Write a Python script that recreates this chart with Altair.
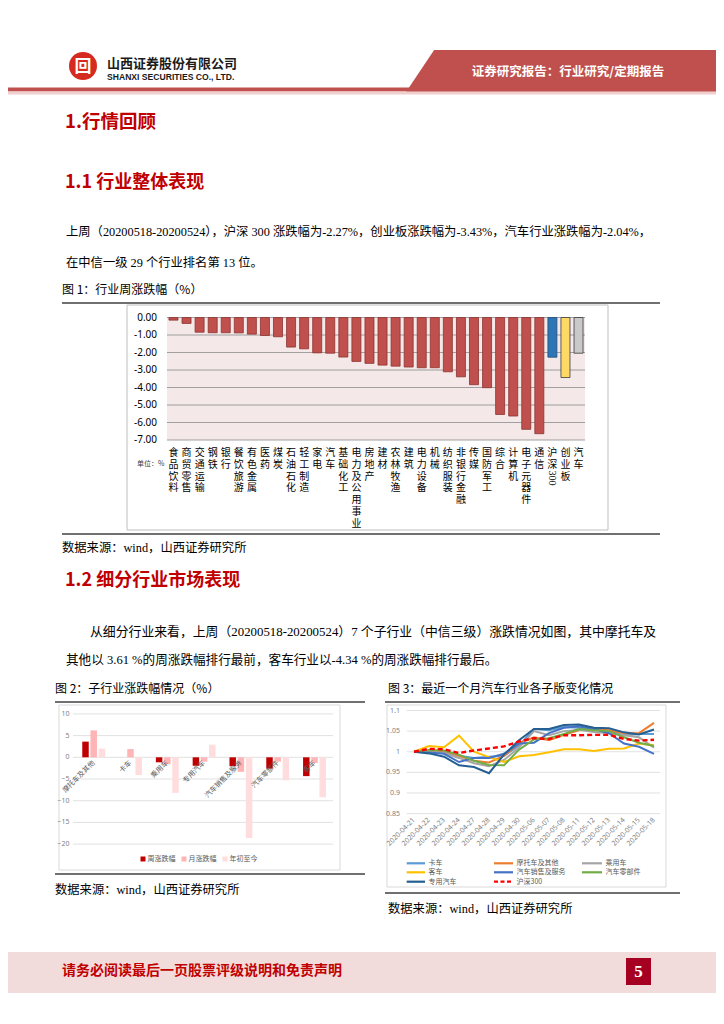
import altair as alt
import pandas as pd

# ---------------- data ----------------
ind_names = ["食品饮料", "商贸零售", "交通运输", "钢铁", "银行", "餐饮旅游", "有色金属", "医药", "煤炭",
             "石油石化", "轻工制造", "家电", "汽车", "基础化工", "电力及公用事业", "房地产", "建材",
             "农林牧渔", "建筑", "电力设备", "机械", "纺织服装", "非银行金融", "传媒", "国防军工",
             "综合", "计算机", "电子元器件", "通信"]
ind_values = [-0.15, -0.34, -0.84, -0.87, -0.87, -0.88, -0.95, -1.03, -1.10, -1.69, -1.79, -2.02, -2.04,
              -2.26, -2.51, -2.62, -2.72, -2.78, -2.83, -2.87, -2.87, -3.10, -3.39, -3.84, -4.01,
              -5.54, -5.63, -6.39, -6.64]
bench_names = ["沪深300", "创业板", "汽车"]
bench_values = [-2.27, -3.43, -2.04]
c1_ticks = [0, -1, -2, -3, -4, -5, -6, -7]
c1_tick_labels = ["0.00", "-1.00", "-2.00", "-3.00", "-4.00", "-5.00", "-6.00", "-7.00"]

sub_names = ["摩托车及其他", "卡车", "乘用车", "专用汽车", "汽车销售及服务", "汽车零部件", "客车"]
c2_series = ["周涨跌幅", "月涨跌幅", "年初至今"]
c2_week = [3.61, 0.0, -1.15, -1.95, -2.05, -2.60, -4.34]
c2_month = [6.2, 1.9, -1.6, -1.0, -3.35, -1.0, -1.3]
c2_ytd = [2.0, -4.05, -8.2, 2.9, -18.6, -5.3, -9.2]
c2_ticks = [10, 5, 0, -5, -10, -15, -20]

dates = ["2020-04-21", "2020-04-22", "2020-04-23", "2020-04-24", "2020-04-27", "2020-04-28",
         "2020-04-29", "2020-04-30", "2020-05-06", "2020-05-07", "2020-05-08", "2020-05-11",
         "2020-05-12", "2020-05-13", "2020-05-14", "2020-05-15", "2020-05-18"]
c3_series = ["卡车", "摩托车及其他", "乘用车", "客车", "汽车销售及服务", "汽车零部件", "专用汽车", "沪深300"]
s_truck = [1.0, 1.002, 1.0, 0.99, 0.985, 0.988, 0.99, 1.015, 1.055, 1.052, 1.06, 1.058, 1.055, 1.05, 1.04, 1.043, 1.043]
s_moto = [1.0, 1.003, 1.002, 0.99, 0.978, 0.974, 0.99, 1.02, 1.035, 1.028, 1.041, 1.052, 1.055, 1.052, 1.045, 1.045, 1.07]
s_car = [1.0, 1.0, 0.997, 0.985, 0.972, 0.965, 0.98, 1.01, 1.05, 1.04, 1.05, 1.053, 1.048, 1.045, 1.04, 1.035, 1.01]
s_bus = [1.0, 1.014, 1.011, 1.039, 1.0, 0.987, 0.975, 0.989, 0.992, 0.999, 1.006, 1.006, 1.002, 1.007, 1.008, 1.02, 1.016]
s_sales = [1.0, 0.998, 0.995, 0.975, 0.985, 0.985, 0.995, 1.02, 1.022, 1.045, 1.058, 1.062, 1.055, 1.045, 1.02, 1.012, 0.995]
s_parts = [1.0, 1.004, 1.003, 0.993, 0.978, 0.968, 0.967, 1.005, 1.03, 1.033, 1.043, 1.055, 1.052, 1.05, 1.035, 1.022, 1.014]
s_special = [1.0, 0.996, 0.988, 0.967, 0.963, 0.948, 0.993, 1.028, 1.055, 1.055, 1.065, 1.066, 1.058, 1.057, 1.047, 1.042, 1.054]
s_hs300 = [1.0, 1.007, 1.006, 0.997, 1.003, 1.008, 1.013, 1.025, 1.033, 1.031, 1.040, 1.040, 1.041, 1.041, 1.031, 1.027, 1.029]
c3_ticks = [1.1, 1.05, 1.0, 0.95, 0.9, 0.85]
c3_tick_labels = ["1.1", "1.05", "1", "0.95", "0.9", "0.85"]

# ---------------- helpers ----------------
CJK = "Noto Sans CJK SC"
SERIF = "Liberation Serif, Noto Sans CJK SC"
HRED = "#C00000"
OFF = 8


def P(v):
    return v - OFF


one = pd.DataFrame({"k": [0]})
layers = []


def text(s, x, y, size, color="#000000", weight="normal", font=CJK, align="left", baseline="middle", angle=None):
    kw = dict(text=s, fontSize=size, color=color, fontWeight=weight, font=font, align=align, baseline=baseline)
    if angle is not None:
        kw["angle"] = angle
    layers.append(alt.Chart(one).mark_text(**kw).encode(x=alt.value(P(x)), y=alt.value(P(y))))


def rect(x1, y1, x2, y2, fill, stroke=None, sw=1.0):
    kw = dict(fill=fill)
    if stroke is not None:
        kw["stroke"] = stroke
        kw["strokeWidth"] = sw
    layers.append(alt.Chart(one).mark_rect(**kw).encode(
        x=alt.value(P(x1)), x2=alt.value(P(x2)), y=alt.value(P(y1)), y2=alt.value(P(y2))))


def hline(x1, x2, y, color, sw=1.0):
    layers.append(alt.Chart(one).mark_rule(color=color, strokeWidth=sw).encode(
        x=alt.value(P(x1)), x2=alt.value(P(x2)), y=alt.value(P(y))))


# ---------------- header ----------------
rect(434, 50, 730, 92, "#C0504D")
layers.append(alt.Chart(one).mark_point(shape="M -1 1 L 0.34 1 L 0.34 -1 Z", size=42 * 42, filled=True,
                                        opacity=1, color="#C0504D", strokeWidth=0).encode(
    x=alt.value(P(427)), y=alt.value(P(71))))
rect(0, 87.5, 730, 91.5, "#C0504D")
rect(0, 91.5, 730, 94.5, "#EFCFCE")
text("证券研究报告：行业研究/定期报告", 568, 72, 12.5, color="#FFFFFF", weight="bold", align="center")
layers.append(alt.Chart(one).mark_point(shape="circle", size=28 * 28, filled=True, opacity=1,
                                        color="#D42A20").encode(x=alt.value(P(83)), y=alt.value(P(66))))
text("回", 83, 66.5, 17, color="#FFFFFF", weight="bold", align="center")
text("山西证券股份有限公司", 107, 63.5, 13, color="#1A1A1A", weight="bold")
text("SHANXI SECURITIES CO., LTD.", 107, 77, 8.6, color="#1A1A1A", weight="bold", font="Liberation Sans")

# ---------------- section 1 text ----------------
text("1.行情回顾", 65, 122, 18.5, color=HRED, weight="bold")
text("1.1 行业整体表现", 65, 183, 18, color=HRED, weight="bold")
text("上周（20200518-20200524），沪深 300 涨跌幅为-2.27%，创业板涨跌幅为-3.43%，汽车行业涨跌幅为-2.04%，",
     66, 232, 12.3, font=SERIF)
text("在中信一级 29 个行业排名第 13 位。", 66, 263, 12.3, font=SERIF)
text("图 1：行业周涨跌幅（%）", 62, 290, 12)
hline(62, 660, 303, "#404040", 1.5)
hline(62, 660, 534, "#404040", 1.5)
text("数据来源：wind，山西证券研究所", 62, 548, 12.3, font=SERIF)

# ---------------- chart 1 ----------------
rect(127, 305, 608, 530, "#FFFFFF", "#BFBFBF", 1)
rect(167, 317.5, 585, 440, "#F4E8E8")

c1_labels = ind_names + bench_names
c1_vals = ind_values + bench_values
kinds = ["行业"] * len(ind_names) + ["沪深300", "创业板", "汽车板块"]
df1 = pd.DataFrame({"idx": list(range(len(c1_labels))), "name": c1_labels, "v": c1_vals, "kind": kinds})
x1 = alt.Scale(domain=list(range(len(c1_labels))), range=[P(167), P(585)], paddingInner=0.31, paddingOuter=0.15)
y1 = alt.Scale(domain=[-7, 0], range=[P(440), P(317.5)])
df1t = pd.DataFrame({"t": c1_ticks, "lbl": c1_tick_labels})

# one row per character of each vertical category label
char_rows = []
for i, n in enumerate(c1_labels):
    chars = ["沪", "深"] if n == "沪深300" else list(n)
    for j, ch in enumerate(chars):
        char_rows.append({"idx": i, "line": j, "ch": ch})
df1c = pd.DataFrame(char_rows)
LH = 11.8
yline = alt.Scale(type="point", domain=list(range(7)), range=[P(447 + LH / 2), P(447 + LH / 2 + 6 * LH)], padding=0)

layers.append(alt.Chart(df1t).mark_rule(color="#8C8C8C", strokeWidth=0.8).encode(
    y=alt.Y("t:Q", scale=y1, axis=None), x=alt.value(P(167)), x2=alt.value(P(585))))
layers.append(alt.Chart(df1t).mark_text(align="right", baseline="middle", fontSize=10, font="Noto Sans",
                                        color="#000000").encode(
    y=alt.Y("t:Q", scale=y1, axis=None), x=alt.value(P(157)), text="lbl:N"))
layers.append(alt.Chart(df1).mark_bar(strokeWidth=0.8).encode(
    x=alt.X("idx:O", scale=x1, axis=None),
    y=alt.Y("v:Q", scale=y1, axis=None),
    color=alt.Color("kind:N", scale=alt.Scale(domain=["行业", "沪深300", "创业板", "汽车板块"],
                                              range=["#C0504D", "#2E75B6", "#FFD966", "#C9C9C9"]), legend=None),
    stroke=alt.Stroke("kind:N", scale=alt.Scale(domain=["行业", "沪深300", "创业板", "汽车板块"],
                                                range=["#8B3330", "#1F4E79", "#3A3A3A", "#3A3A3A"]), legend=None)))
layers.append(alt.Chart(df1c).mark_text(align="center", baseline="middle", fontSize=10, font=CJK,
                                        color="#000000").encode(
    x=alt.X("idx:O", scale=x1, axis=None), y=alt.Y("line:O", scale=yline, axis=None), text="ch:N"))
layers.append(alt.Chart(df1).transform_filter(alt.datum.name == "沪深300").mark_text(
    text="300", angle=90, align="center", baseline="middle", fontSize=10, font=SERIF, color="#000000").encode(
    x=alt.X("idx:O", scale=x1, axis=None), y=alt.value(P(478))))
text("单位：%", 137, 464, 7, color="#404040")

# ---------------- section 1.2 text ----------------
text("1.2 细分行业市场表现", 65, 581, 18, color=HRED, weight="bold")
text("从细分行业来看，上周（20200518-20200524）7 个子行业（中信三级）涨跌情况如图，其中摩托车及",
     90, 632, 12.85, font=SERIF)
text("其他以 3.61 %的周涨跌幅排行最前，客车行业以-4.34 %的周涨跌幅排行最后。", 66, 660, 12.6, font=SERIF)

# ---------------- chart 2 ----------------
text("图 2：子行业涨跌幅情况（%）", 55, 689, 12)
hline(55, 365, 702, "#404040", 1.5)
hline(55, 365, 874, "#404040", 1.5)
text("数据来源：wind，山西证券研究所", 55, 890, 12.3, font=SERIF)
rect(59, 705, 340, 870, "#FFFFFF", "#D9D9D9", 1)

y2s = alt.Scale(domain=[-20, 10], range=[P(844.1), P(713.9)])
x2s = alt.Scale(domain=sub_names, range=[P(75.3), P(332.9)], paddingInner=0, paddingOuter=0)
df2t = pd.DataFrame({"t": c2_ticks})
layers.append(alt.Chart(df2t).mark_rule(color="#D9D9D9", strokeWidth=0.8).encode(
    y=alt.Y("t:Q", scale=y2s, axis=None), x=alt.value(P(73)), x2=alt.value(P(333))))
layers.append(alt.Chart(df2t).mark_text(align="right", baseline="middle", fontSize=7, font="Noto Sans",
                                        color="#7F7F7F").encode(
    y=alt.Y("t:Q", scale=y2s, axis=None), x=alt.value(P(69.5)), text="t:Q"))
rows = []
for i, g in enumerate(sub_names):
    for s, arr in zip(c2_series, [c2_week, c2_month, c2_ytd]):
        rows.append({"g": g, "s": s, "v": arr[i]})
df2 = pd.DataFrame(rows)
layers.append(alt.Chart(df2).mark_bar().encode(
    x=alt.X("g:N", scale=x2s, axis=None),
    xOffset=alt.XOffset("s:N", scale=alt.Scale(domain=c2_series, paddingInner=0.21, paddingOuter=0.85)),
    y=alt.Y("v:Q", scale=y2s, axis=None),
    color=alt.Color("s:N", scale=alt.Scale(domain=c2_series, range=["#C00000", "#FFB4B6", "#FFDCDD"]),
                    legend=None)))
df2l = pd.DataFrame({"g": sub_names})
layers.append(alt.Chart(df2l).mark_text(angle=315, align="right", baseline="middle", fontSize=7, font=CJK,
                                        color="#595959").encode(
    x=alt.X("g:N", scale=x2s, axis=None), y=alt.value(P(762)), text="g:N"))
for lx, name, col in zip([143, 184, 225], c2_series, ["#C00000", "#FFB4B6", "#FFDCDD"]):
    rect(lx - 2.5, 856.5, lx + 2.5, 861.5, col)
    text(name, lx + 4.5, 859, 7, color="#595959")

# ---------------- chart 3 ----------------
text("图 3：最近一个月汽车行业各子版变化情况", 388, 689, 12)
hline(385, 680, 702, "#404040", 1.5)
hline(385, 680, 893, "#404040", 1.5)
text("数据来源：wind，山西证券研究所", 388, 909, 12.3, font=SERIF)
rect(387, 705, 666, 887, "#FFFFFF", "#D9D9D9", 1)

y3s = alt.Scale(domain=[0.85, 1.1], range=[P(813.6), P(710.5)])
x3s = alt.Scale(type="point", domain=dates, range=[P(414), P(654)], padding=0)
df3t = pd.DataFrame({"t": c3_ticks, "lbl": c3_tick_labels})
layers.append(alt.Chart(df3t).mark_rule(color="#D9D9D9", strokeWidth=0.8).encode(
    y=alt.Y("t:Q", scale=y3s, axis=None), x=alt.value(P(406.7)), x2=alt.value(P(660))))
layers.append(alt.Chart(df3t).mark_text(align="right", baseline="middle", fontSize=7, font="Noto Sans",
                                        color="#7F7F7F").encode(
    y=alt.Y("t:Q", scale=y3s, axis=None), x=alt.value(P(400)), text="lbl:N"))
c3_colors = ["#5B9BD5", "#ED7D31", "#A5A5A5", "#FFC000", "#4472C4", "#70AD47", "#255E91", "#FF0000"]
series_vals = [s_truck, s_moto, s_car, s_bus, s_sales, s_parts, s_special, s_hs300]
rows = []
for si, (s, arr) in enumerate(zip(c3_series, series_vals)):
    for d, v in zip(dates, arr):
        rows.append({"d": d, "s": s, "v": v, "o": si})
df3 = pd.DataFrame(rows)
layers.append(alt.Chart(df3).transform_filter(alt.datum.s != "沪深300").mark_line(strokeWidth=2).encode(
    x=alt.X("d:O", scale=x3s, axis=None),
    y=alt.Y("v:Q", scale=y3s, axis=None),
    color=alt.Color("s:N", scale=alt.Scale(domain=c3_series, range=c3_colors), legend=None)))
layers.append(alt.Chart(df3).transform_filter(alt.datum.s == "沪深300").mark_line(
    strokeWidth=2.4, strokeDash=[5, 3], color="#FF0000").encode(
    x=alt.X("d:O", scale=x3s, axis=None),
    y=alt.Y("v:Q", scale=y3s, axis=None)))
df3d = pd.DataFrame({"d": dates})
layers.append(alt.Chart(df3d).mark_text(angle=315, align="right", baseline="middle", fontSize=7,
                                        font="Noto Sans", color="#7F7F7F").encode(
    x=alt.X("d:O", scale=x3s, axis=None), y=alt.value(P(819)), text="d:N", ))
leg_cols = [(406.7, 425, 428.5), (494, 513, 516.5), (582, 602, 605.5)]
leg_rows = [863.3, 872.3, 881.7]
for i, (s, col) in enumerate(zip(c3_series, c3_colors)):
    r, c = divmod(i, 3)
    lx1, lx2, tx = leg_cols[c]
    ly = leg_rows[r]
    if s == "沪深300":
        layers.append(alt.Chart(one).mark_rule(color=col, strokeWidth=2.2, strokeDash=[4, 2.5]).encode(
            x=alt.value(P(lx1)), x2=alt.value(P(lx2)), y=alt.value(P(ly))))
    else:
        hline(lx1, lx2, ly, col, 2.2)
    text(s, tx, ly, 7, color="#595959")

# ---------------- footer ----------------
rect(0, 952, 730, 993, "#F2DCDB")
text("请务必阅读最后一页股票评级说明和免责声明", 62, 971, 14, color="#C00000", weight="bold")
rect(626, 958, 651, 985, "#A50021")
text("5", 638.5, 972, 17, color="#FFFFFF", weight="bold", font="Liberation Serif", align="center")

chart = alt.layer(*layers).resolve_scale(
    x="independent", y="independent", color="independent", stroke="independent", xOffset="independent"
).properties(
    width=708, height=1008, padding=0, autosize=alt.AutoSizeParams(type="none")
).configure_view(stroke=None)

chart.save("out.html", embed_options={"renderer": "svg", "actions": False})
